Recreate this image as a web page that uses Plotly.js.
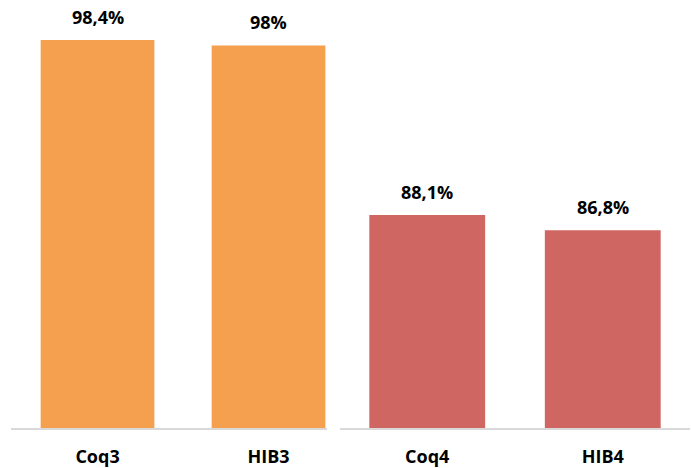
<!DOCTYPE html>
<html>
<head>
<meta charset="utf-8">
<script src="https://cdn.plot.ly/plotly-3.0.1.min.js"></script>
<style>
  html, body { margin: 0; padding: 0; background: #fff; }
  #chart { width: 691px; height: 468px; }
</style>
</head>
<body>
<div id="chart"></div>
<script>
// Coverage by dose: third doses (left panel) and fourth doses (right panel)
const categories3 = ["Coq3", "HIB3"];
const values3 = [98.4, 98];
const labels3 = ["98,4%", "98%"];

const categories4 = ["Coq4", "HIB4"];
const values4 = [88.1, 86.8];
const labels4 = ["88,1%", "86,8%"];

const orange = "#F5A04E";
const red = "#CF6662";
const font = { family: "Open Sans, sans-serif", size: 18, color: "#000" };

const traces = [
  { type: "bar", x: categories3, y: values3, xaxis: "x", yaxis: "y",
    marker: { color: orange }, width: 0.665, hoverinfo: "skip" },
  { type: "bar", x: categories4, y: values4, xaxis: "x2", yaxis: "y2",
    marker: { color: red }, width: 0.66, hoverinfo: "skip" }
];

function valueNotes(cats, vals, labs, xr, yr) {
  return cats.map((c, i) => ({
    x: c, y: vals[i], xref: xr, yref: yr, text: "<b>" + labs[i] + "</b>",
    showarrow: false, yanchor: "bottom", yshift: 9, font: font
  }));
}

const axisX = {
  type: "category", showline: true, linecolor: "#D9D9D9", linewidth: 2,
  showgrid: false, zeroline: false, ticks: "", ticklabelstandoff: 11,
  tickfont: font, automargin: false, fixedrange: true
};
const axisY = { visible: false, showgrid: false, zeroline: false, fixedrange: true };

const layout = {
  width: 691, height: 468,
  margin: { l: 0, r: 0, t: 0, b: 40 },
  paper_bgcolor: "#fff", plot_bgcolor: "#fff",
  showlegend: false,
  xaxis: Object.assign({}, axisX, { domain: [11 / 691, 327 / 691], range: [-0.506, 1.342],
    tickvals: categories3, ticktext: categories3.map(c => "<b>" + c + "</b>") }),
  xaxis2: Object.assign({}, axisX, { domain: [340 / 691, 690 / 691], range: [-0.497, 1.497], anchor: "y2",
    tickvals: categories4, ticktext: categories4.map(c => "<b>" + c + "</b>") }),
  yaxis: Object.assign({}, axisY, { range: [70, 101.33] }),
  yaxis2: Object.assign({}, axisY, { range: [70, 106.36], anchor: "x2" }),
  annotations: valueNotes(categories3, values3, labels3, "x", "y")
    .concat(valueNotes(categories4, values4, labels4, "x2", "y2"))
};

Plotly.newPlot("chart", traces, layout, { displayModeBar: false, staticPlot: true });
</script>
</body>
</html>
